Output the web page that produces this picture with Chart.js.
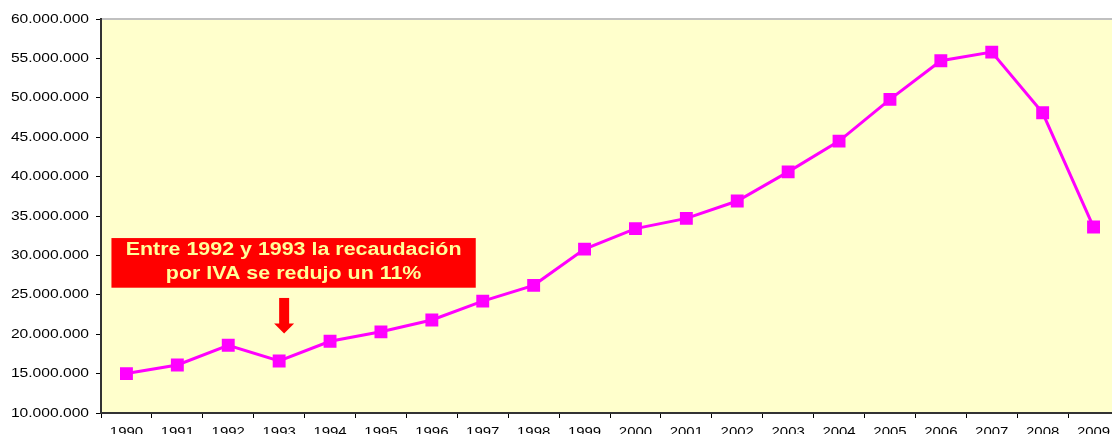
<!DOCTYPE html>
<html>
<head>
<meta charset="utf-8">
<script src="https://cdn.jsdelivr.net/npm/chart.js@4"></script>
<style>
  html, body { margin: 0; padding: 0; background: #fff; overflow: hidden; }
  #wrap { width: 1129px; height: 446px; }
</style>
</head>
<body>
<div id="wrap"><canvas id="ivaChart"></canvas></div>
<script>
const years = ["1990","1991","1992","1993","1994","1995","1996","1997","1998","1999",
  "2000","2001","2002","2003","2004","2005","2006","2007","2008","2009"];
const recaudacion = [15000000, 16100000, 18600000, 16600000, 19100000, 20300000, 21800000,
  24200000, 26200000, 30800000, 33400000, 34700000, 36900000, 40600000, 44500000,
  49800000, 54700000, 55800000, 48100000, 33600000];
const yTicks = [10000000, 15000000, 20000000, 25000000, 30000000, 35000000, 40000000,
  45000000, 50000000, 55000000, 60000000];
const noteLines = ["Entre 1992 y 1993 la recaudación", "por IVA se redujo un 11%"];

const FONT = "'Liberation Sans', Arial, sans-serif";

// texto algo estirado en horizontal, como en el original
function wideText(ctx, txt, x, y, sx, align) {
  ctx.save();
  ctx.translate(x, y);
  ctx.scale(sx, 1);
  ctx.textAlign = align;
  ctx.fillText(txt, 0, 0);
  ctx.restore();
}

const decor = {
  id: "decor",
  beforeDraw(c) {
    const a = c.chartArea, ctx = c.ctx;
    ctx.save();
    ctx.fillStyle = "#FFFFCC";
    ctx.fillRect(a.left, a.top, a.right - a.left, a.bottom - a.top);
    ctx.strokeStyle = "#C0C0C0";
    ctx.lineWidth = 2;
    ctx.beginPath();
    ctx.moveTo(a.left, a.top);
    ctx.lineTo(a.right, a.top);
    ctx.stroke();
    ctx.restore();
  },
  afterDatasetsDraw(c) {
    const ctx = c.ctx, x = c.scales.x, y = c.scales.y;
    // etiquetas de los ejes
    ctx.save();
    ctx.fillStyle = "#000";
    ctx.font = "13px " + FONT;
    ctx.textBaseline = "middle";
    yTicks.forEach(v => {
      wideText(ctx, v.toLocaleString("de-DE"), y.left + 89, y.getPixelForValue(v), 1.2, "right");
    });
    years.forEach((lab, i) => {
      wideText(ctx, lab, x.getPixelForValue(i), x.top + 19, 1.15, "center");
    });
    ctx.restore();

    // nota con flecha
    const bx1 = x.getPixelForValue(0) - 15, bx2 = x.getPixelForValue(7) - 7;
    const by1 = y.getPixelForValue(32200000), by2 = y.getPixelForValue(25900000);
    ctx.save();
    ctx.fillStyle = "#FF0000";
    ctx.fillRect(bx1, by1, bx2 - bx1, by2 - by1);
    ctx.fillStyle = "#FFFF99";
    ctx.font = "bold 18px " + FONT;
    ctx.textBaseline = "middle";
    const cx = (bx1 + bx2) / 2;
    wideText(ctx, noteLines[0], cx, by1 + 12, 1.19, "center");
    wideText(ctx, noteLines[1], cx, by1 + 36, 1.19, "center");
    const ax = x.getPixelForValue(3) + 5;
    const ay1 = y.getPixelForValue(24600000), ay2 = y.getPixelForValue(20100000);
    ctx.fillStyle = "#FF0000";
    ctx.fillRect(ax - 5, ay1, 10, ay2 - ay1 - 9);
    ctx.beginPath();
    ctx.moveTo(ax - 10, ay2 - 10);
    ctx.lineTo(ax + 10, ay2 - 10);
    ctx.lineTo(ax, ay2);
    ctx.closePath();
    ctx.fill();
    ctx.restore();
  }
};

new Chart(document.getElementById("ivaChart"), {
  type: "line",
  data: {
    labels: years,
    datasets: [{
      data: recaudacion,
      borderColor: "#FF00FF",
      backgroundColor: "#FF00FF",
      borderWidth: 3,
      pointStyle: "rect",
      pointRadius: 7,
      pointHoverRadius: 7,
      tension: 0
    }]
  },
  options: {
    responsive: true,
    maintainAspectRatio: false,
    animation: false,
    layout: { padding: { top: 19, right: 0, left: 0, bottom: 0 } },
    plugins: { legend: { display: false }, tooltip: { enabled: false } },
    scales: {
      x: {
        offset: true,
        grid: { offset: true, drawOnChartArea: false, tickLength: 5, color: "#000" },
        border: { color: "#333", width: 2 },
        ticks: { color: "rgba(0,0,0,0)", font: { family: FONT, size: 13 }, padding: 5, maxRotation: 0, autoSkip: false },
        afterFit(s) { s.height = 33; }
      },
      y: {
        min: 10000000,
        max: 60000000,
        afterBuildTicks(s) { s.ticks = yTicks.map(v => ({ value: v })); },
        grid: { drawOnChartArea: false, tickLength: 5, color: "#000" },
        border: { color: "#333", width: 2 },
        ticks: { color: "rgba(0,0,0,0)", font: { family: FONT, size: 13 }, padding: 4 },
        afterFit(s) { s.width = 101; }
      }
    }
  },
  plugins: [decor]
});
</script>
</body>
</html>
